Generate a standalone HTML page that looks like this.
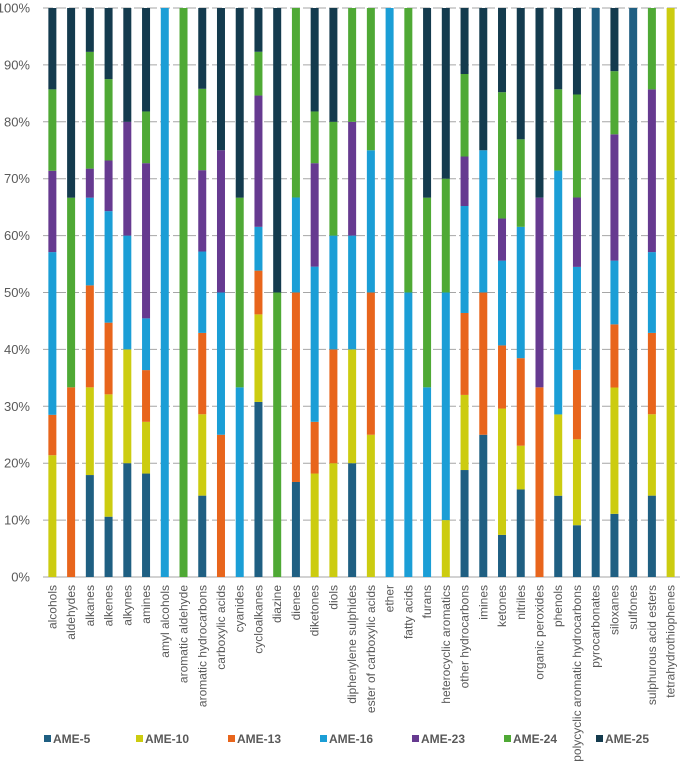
<!DOCTYPE html>
<html><head><meta charset="utf-8"><style>
body{margin:0;background:#fff;}
svg{display:block;font-family:"Liberation Sans",Arial,sans-serif;}
</style></head><body>
<svg id="chart" width="684" height="777"></svg>
<script>
const categories=["alcohols","aldehydes","alkanes","alkenes","alkynes","amines","amyl alcohols","aromatic aldehyde","aromatic hydrocarbons","carboxylic acids","cyanides","cycloalkanes","diazine","dienes","diketones","diols","diphenylene sulphides","ester of carboxylic acids","ether","fatty acids","furans","heterocyclic aromatics","other hydrocarbons","imines","ketones","nitriles","organic peroxides","phenols","polycyclic aromatic hydrocarbons","pyrocarbonates","siloxanes","sulfones","sulphurous acid esters","tetrahydrothiophenes"];
const seriesNames=["AME-5","AME-10","AME-13","AME-16","AME-23","AME-24","AME-25"];
const seriesColors=["#1f5f82","#cccc10","#e8651c","#1b9ed6","#663a90","#4fa935","#143b4e"];
const ame5 =[0,0,17.9,10.6,20,18.2,0,0,14.3,0,0,30.8,0,16.7,0,0,20,0,0,0,0,0,18.8,25,7.4,15.4,0,14.3,9.1,100,11.1,100,14.3,0];
const ame10=[21.4,0,15.4,21.5,20,9.1,0,0,14.3,0,0,15.4,0,0,18.2,20,20,25,0,0,0,10,13.2,0,22.2,7.7,0,14.3,15.1,0,22.2,0,14.3,100];
const ame13=[7.1,33.3,17.9,12.6,0,9.1,0,0,14.3,25,0,7.7,0,33.3,9.1,20,0,25,0,0,0,0,14.4,25,11.1,15.4,33.3,0,12.2,0,11.1,0,14.3,0];
const ame16=[28.6,0,15.4,19.6,20,9.1,100,0,14.3,25,33.3,7.7,0,16.7,27.3,20,20,25,100,50,33.3,40,18.8,25,14.9,23.1,0,42.9,18.1,0,11.2,0,14.2,0];
const ame23=[14.3,0,5.1,8.9,20,27.3,0,0,14.3,25,0,23.1,0,0,18.2,0,20,0,0,0,0,0,8.7,0,7.4,0,33.3,0,12.2,0,22.2,0,28.6,0];
const ame24=[14.3,33.3,20.5,14.3,0,9.1,0,100,14.3,0,33.3,7.7,50,33.3,9.1,20,20,25,0,50,33.3,20,14.5,0,22.2,15.4,0,14.3,18.1,0,11.1,0,14.3,0];
const ame25=[14.3,33.3,7.7,12.5,20,18.2,0,0,14.2,25,33.3,7.7,50,0,18.2,20,0,0,0,0,33.3,30,11.6,25,14.8,23.1,33.3,14.3,15.2,0,11.1,0,0,0];
const series=[ame5,ame10,ame13,ame16,ame23,ame24,ame25];
const yTicks=[0,10,20,30,40,50,60,70,80,90,100];

const NS="http://www.w3.org/2000/svg";
const svg=document.getElementById('chart');
const L=43,R=680,T=8,B=577;
const band=(R-L)/categories.length;
const xC=i=>L+band*(i+0.5);
const y=v=>B-(B-T)*v/100;
function mk(tag,attrs){const e=document.createElementNS(NS,tag);for(const k in attrs)e.setAttribute(k,attrs[k]);svg.appendChild(e);return e;}

yTicks.forEach(t=>{
  const g=mk('line',{x1:L,x2:R,y1:y(t),y2:y(t),stroke:'#a6a6a6','stroke-width':1,'stroke-dasharray':t===0?'':'10,3'});
  
  
  const tx=mk('text',{x:30,y:y(t)+4.5,'text-anchor':'end','font-size':13,fill:'#595959'});
  tx.textContent=t+'%';
  
  
});

categories.forEach((c,i)=>{
  let acc=0;
  const tot=series.reduce((s,a)=>s+a[i],0)||1;
  series.forEach((arr,s)=>{
    const v=arr[i]*100/tot;
    if(v>0){
      const r=mk('rect',{x:xC(i)-4,y:y(acc+v),width:8,height:y(acc)-y(acc+v),fill:seriesColors[s]});
      
      
    }
    acc+=v;
  });
  const t=mk('text',{x:0,y:0,'text-anchor':'end','font-size':12,fill:'#595959',transform:`translate(${xC(i)+4},585) rotate(-90)`});
  t.textContent=c;
  
  
});

seriesNames.forEach((n,s)=>{
  const x0=44+s*92;
  const r=mk('rect',{x:x0,y:735,width:7,height:7,fill:seriesColors[s]});
  
  
  const t=mk('text',{x:x0+9,y:743,'font-size':12,'font-weight':'bold',fill:'#595959'});
  t.textContent=n;
  
  
});
</script>
</body></html>
